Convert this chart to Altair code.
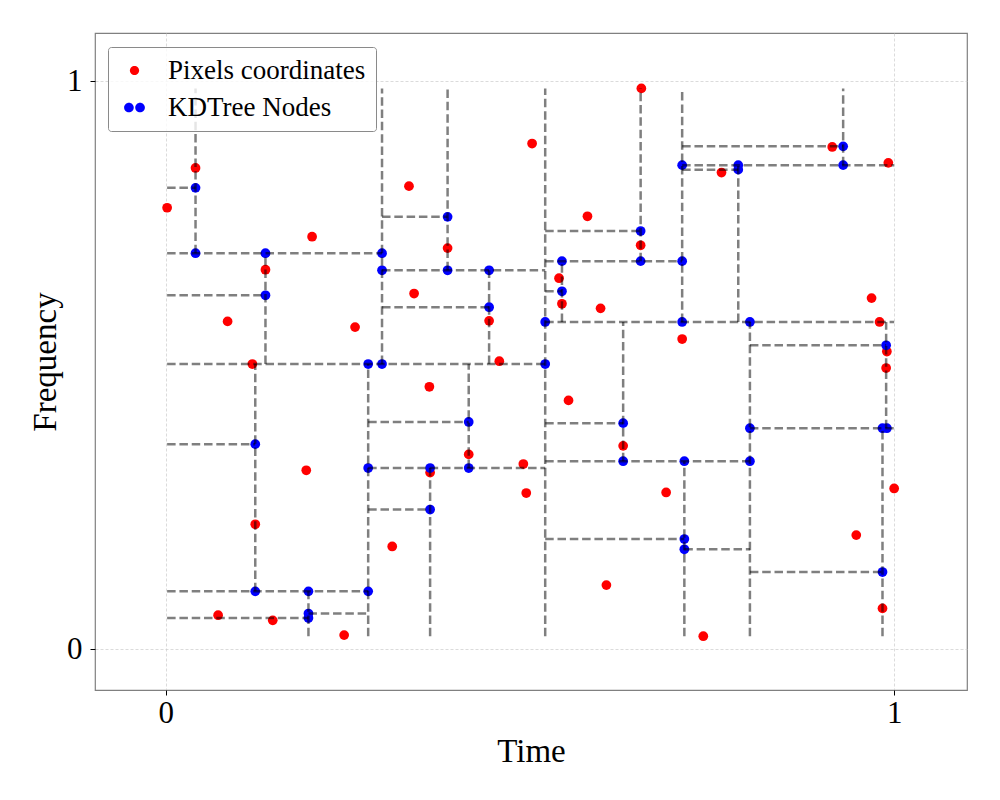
import altair as alt
import pandas as pd

# ---------------- data ----------------
# red points: "Pixels coordinates"
pix_x = [0.002, 0.041, 0.085, 0.137, 0.119, 0.201, 0.123, 0.193, 0.072, 0.147,
         0.245, 0.260, 0.334, 0.341, 0.387, 0.362, 0.363, 0.311, 0.416, 0.444,
         0.458, 0.503, 0.491, 0.495, 0.579, 0.540, 0.544, 0.553, 0.597, 0.653,
         0.652, 0.628, 0.605, 0.709, 0.687, 0.738, 0.763, 0.915, 0.992, 0.969,
         0.980, 0.990, 0.989, 1.000, 0.948, 0.984]
pix_y = [0.777, 0.847, 0.577, 0.668, 0.502, 0.726, 0.220, 0.315, 0.060, 0.051,
         0.025, 0.567, 0.815, 0.626, 0.706, 0.462, 0.311, 0.181, 0.343, 0.578,
         0.507, 0.890, 0.326, 0.275, 0.762, 0.653, 0.608, 0.438, 0.600, 0.987,
         0.711, 0.358, 0.113, 0.546, 0.276, 0.023, 0.839, 0.884, 0.856, 0.618,
         0.576, 0.524, 0.495, 0.283, 0.201, 0.072]

# blue points: "KDTree Nodes"
node_x = [0.041, 0.041, 0.137, 0.297, 0.297, 0.137, 0.123, 0.278, 0.297, 0.387,
          0.387, 0.444, 0.444, 0.521, 0.521, 0.544, 0.544, 0.652, 0.652, 0.709,
          0.709, 0.709, 0.786, 0.786, 0.930, 0.930, 0.802, 0.989, 0.802, 0.984,
          0.990, 0.628, 0.628, 0.712, 0.802, 0.712, 0.712, 0.984, 0.123, 0.196,
          0.278, 0.196, 0.196, 0.278, 0.363, 0.416, 0.416, 0.363]
node_y = [0.812, 0.697, 0.697, 0.697, 0.667, 0.623, 0.361, 0.502, 0.502, 0.761,
          0.667, 0.667, 0.602, 0.502, 0.576, 0.683, 0.630, 0.736, 0.683, 0.683,
          0.852, 0.576, 0.852, 0.844, 0.885, 0.852, 0.576, 0.535, 0.389, 0.389,
          0.389, 0.398, 0.331, 0.331, 0.331, 0.194, 0.176, 0.136, 0.102, 0.102,
          0.102, 0.063, 0.055, 0.319, 0.319, 0.319, 0.400, 0.246]

# KD-tree split lines
X0, X1, Y0, Y1 = 0.002, 1.0, 0.023, 0.987
vert_x = [0.521, 0.297, 0.041, 0.137, 0.387, 0.444, 0.278, 0.123, 0.196, 0.416,
          0.363, 0.709, 0.652, 0.544, 0.930, 0.786, 0.802, 0.628, 0.712, 0.989,
          0.984]
vert_y1 = [Y0, 0.502, 0.697, 0.502, 0.667, 0.502, Y0, 0.102, Y0, 0.319,
           Y0, 0.576, 0.683, 0.576, 0.852, 0.576, Y0, 0.331, Y0, 0.389,
           Y0]
vert_y2 = [Y1, Y1, Y1, 0.697, Y1, 0.667, 0.502, 0.502, 0.102, 0.502,
           0.319, Y1, Y1, 0.683, Y1, 0.852, 0.576, 0.576, 0.331, 0.576,
           0.389]
hor_y = [0.502, 0.697, 0.812, 0.623, 0.667, 0.761, 0.602, 0.102, 0.361, 0.055,
         0.063, 0.319, 0.400, 0.246, 0.576, 0.683, 0.736, 0.630, 0.852, 0.885,
         0.844, 0.331, 0.398, 0.194, 0.176, 0.389, 0.535, 0.136]
hor_x1 = [X0, X0, X0, X0, 0.297, 0.297, 0.297, X0, X0, X0,
          0.196, 0.278, 0.278, 0.278, 0.521, 0.521, 0.521, 0.521, 0.709, 0.709,
          0.709, 0.521, 0.521, 0.521, 0.712, 0.802, 0.802, 0.802]
hor_x2 = [0.521, 0.297, 0.041, 0.137, 0.521, 0.387, 0.444, 0.278, 0.123, 0.196,
          0.278, 0.521, 0.416, 0.363, X1, 0.709, 0.652, 0.544, X1, 0.930,
          0.786, 0.802, 0.628, 0.712, 0.802, X1, 0.989, 0.984]

series_names = ["Pixels coordinates", "KDTree Nodes"]
series_colors = ["#ff0000", "#0000ff"]

# ---------------- tables ----------------
red_df = pd.DataFrame({"x": pix_x, "y": pix_y})
blue_df = pd.DataFrame({"x": node_x, "y": node_y})
seg_df = pd.DataFrame({
    "x": vert_x + hor_x1,
    "x2": vert_x + hor_x2,
    "y": vert_y1 + hor_y,
    "y2": vert_y2 + hor_y,
})
legend_df = pd.concat([
    red_df.assign(series=series_names[0]),
    blue_df.assign(series=series_names[1]),
])


def circle_path(cx, cy, r):
    k = 0.5523 * r
    f = lambda v: f"{v:.4f}"
    return (f"M{f(cx + r)},{f(cy)} "
            f"C{f(cx + r)},{f(cy + k)} {f(cx + k)},{f(cy + r)} {f(cx)},{f(cy + r)} "
            f"C{f(cx - k)},{f(cy + r)} {f(cx - r)},{f(cy + k)} {f(cx - r)},{f(cy)} "
            f"C{f(cx - r)},{f(cy - k)} {f(cx - k)},{f(cy - r)} {f(cx)},{f(cy - r)} "
            f"C{f(cx + k)},{f(cy - r)} {f(cx + r)},{f(cy - k)} {f(cx + r)},{f(cy)} Z")


single_dot = circle_path(0, 0, 0.44)
double_dot = circle_path(-0.53, 0, 0.46) + " " + circle_path(0.53, 0, 0.46)

FONT = "Liberation Serif"

xscale = alt.Scale(domain=[-0.097, 1.1], nice=False, zero=False)
yscale = alt.Scale(domain=[-0.0716, 1.0845], nice=False, zero=False)

xaxis = alt.Axis(values=[0, 1], format="d", title="Time",
                 titleX=436, titleY=71, titleBaseline="alphabetic",
                 labelPadding=3)
yaxis = alt.Axis(values=[0, 1], format="d", title="Frequency",
                 titleX=-40, titleY=328.5, titleAngle=270, titleAlign="center",
                 titleBaseline="alphabetic", labelPadding=8)

red = alt.Chart(red_df).mark_point(
    filled=True, shape="circle", size=95, opacity=1, strokeWidth=0, color="#ff0000"
).encode(
    x=alt.X("x:Q", scale=xscale, axis=xaxis),
    y=alt.Y("y:Q", scale=yscale, axis=yaxis),
)

blue = alt.Chart(blue_df).mark_point(
    filled=True, shape="circle", size=95, opacity=1, strokeWidth=0, color="#0000ff"
).encode(x="x:Q", y="y:Q")

lines = alt.Chart(seg_df).mark_rule(
    color="black", opacity=0.5, strokeWidth=2.5, strokeDash=[8.5, 3.8]
).encode(x="x:Q", x2="x2:Q", y="y:Q", y2="y2:Q")

leg = alt.Legend(
    title=None, orient="none", legendX=13, legendY=14,
    padding=10, fillColor="rgba(255,255,255,0.8)", strokeColor="#8a8a8a",
    cornerRadius=3, symbolSize=441, symbolOpacity=1, symbolStrokeWidth=0,
    symbolOffset=3, labelOffset=20, rowPadding=9,
    labelFont=FONT, labelFontSize=27, labelColor="black", labelLimit=400,
)

legend_layer = alt.Chart(legend_df).mark_point(
    filled=True, opacity=0, size=1
).encode(
    x="x:Q", y="y:Q",
    color=alt.Color("series:N", sort=series_names,
                    scale=alt.Scale(domain=series_names, range=series_colors),
                    legend=leg),
    shape=alt.Shape("series:N", sort=series_names,
                    scale=alt.Scale(domain=series_names, range=[single_dot, double_dot]),
                    legend=leg),
)

chart = alt.layer(red, blue, lines, legend_layer).properties(
    width=872, height=657,
    padding={"left": 95, "top": 33, "right": 33, "bottom": 110},
    autosize=alt.AutoSizeParams(type="none"),
    background="white",
).configure_view(
    stroke="#808080", strokeWidth=1.2
).configure_axis(
    labelFont=FONT, labelFontSize=31, labelColor="black",
    titleFont=FONT, titleFontSize=33, titleFontWeight="normal", titleColor="black",
    tickColor="black", tickSize=5, tickWidth=1,
    domain=False,
    grid=True, gridColor="#cccccc", gridDash=[3, 2], gridWidth=0.7,
)

chart.save("out.html", embed_options={"renderer": "svg", "actions": False})
